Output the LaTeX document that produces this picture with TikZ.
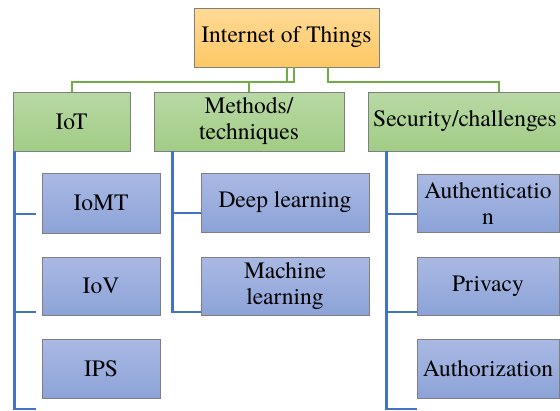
\documentclass[tikz,border=0pt]{standalone}
\usepackage{fontspec}
\setmainfont{TeX Gyre Termes}
\definecolor{edgegrey}{HTML}{7F7F7F}
\definecolor{linkgreen}{HTML}{70AD47}
\definecolor{linkblue}{HTML}{4472C4}
\begin{document}
\begin{tikzpicture}[x=1pt,y=-1pt,
  box/.style={draw=edgegrey, line width=0.9pt, inner sep=0pt, align=center,
    font=\rmfamily\fontsize{23.5}{26}\selectfont},
  rootbox/.style={box, top color={rgb,255:red,255;green,218;blue,150}, bottom color={rgb,255:red,253;green,200;blue,100}},
  levelbox/.style={box, top color={rgb,255:red,184;green,217;blue,163}, bottom color={rgb,255:red,161;green,204;blue,134}},
  leafbox/.style={box, top color={rgb,255:red,170;green,185;blue,227}, bottom color={rgb,255:red,140;green,163;blue,216}},
  glink/.style={draw=linkgreen, line width=2pt},
  blink/.style={draw=linkblue, line width=2.5pt}]
\useasboundingbox (0,0) rectangle (560,410);

% root
\node[rootbox, minimum width=185pt, minimum height=59pt] (root) at (286.5,37.5) {Internet of Things};

% first level
\node[levelbox, minimum width=117pt, minimum height=59pt] (iot) at (71.5,121.5) {IoT};
\node[levelbox, minimum width=190pt, minimum height=59pt] (meth) at (249,121.5) {Methods/\\techniques};
\node[levelbox, minimum width=194pt, minimum height=59pt] (sec) at (465,121.5) {Security/challenges};

% leaves under IoT
\node[leafbox, minimum width=118pt, minimum height=60pt] (iomt) at (101,203) {IoMT};
\node[leafbox, minimum width=118pt, minimum height=58pt] (iov) at (101,286) {IoV};
\node[leafbox, minimum width=118pt, minimum height=59pt] (ips) at (101,368.5) {IPS};

% leaves under methods
\node[leafbox, minimum width=168pt, minimum height=59pt] (deep) at (285,202.5) {Deep learning};
\node[leafbox, minimum width=168pt, minimum height=58pt] (ml) at (285,286) {Machine\\learning};

% leaves under security
\node[leafbox, minimum width=142pt, minimum height=58pt] (auth) at (488,203) {Authenticatio\\n};
\node[leafbox, minimum width=142pt, minimum height=58pt] (priv) at (488,286) {Privacy};
\node[leafbox, minimum width=142pt, minimum height=59pt] (authz) at (488,368.5) {Authorization};

% root to first level
\draw[glink] ([xshift=0.5pt]root.south) -- ++(0,15) -| (iot.north);
\draw[glink] ([xshift=7.5pt]root.south) -- ++(0,15) -| (meth.north);
\draw[glink] ([xshift=41.5pt]root.south) -- ++(0,15) -| ([xshift=34pt]sec.north);

% ends of the leaf connectors
\coordinate (iotA) at (36,214);
\coordinate (iotB) at (36,312);
\coordinate (iotC) at (36,409);
\coordinate (methA) at (201,213);
\coordinate (methB) at (201,312);
\coordinate (secA) at (417,214);
\coordinate (secB) at (417,312);
\coordinate (secC) at (417,409);

% first level to leaves
\draw[blink] ([xshift=2pt]iot.south west) |- (iotA);
\draw[blink] ([xshift=2pt]iot.south west) |- (iotB);
\draw[blink] ([xshift=2pt]iot.south west) |- (iotC);
\draw[blink] ([xshift=19pt]meth.south west) |- (methA);
\draw[blink] ([xshift=19pt]meth.south west) |- (methB);
\draw[blink] ([xshift=19pt]sec.south west) |- (secA);
\draw[blink] ([xshift=19pt]sec.south west) |- (secB);
\draw[blink] ([xshift=19pt]sec.south west) |- (secC);
\end{tikzpicture}
\end{document}
